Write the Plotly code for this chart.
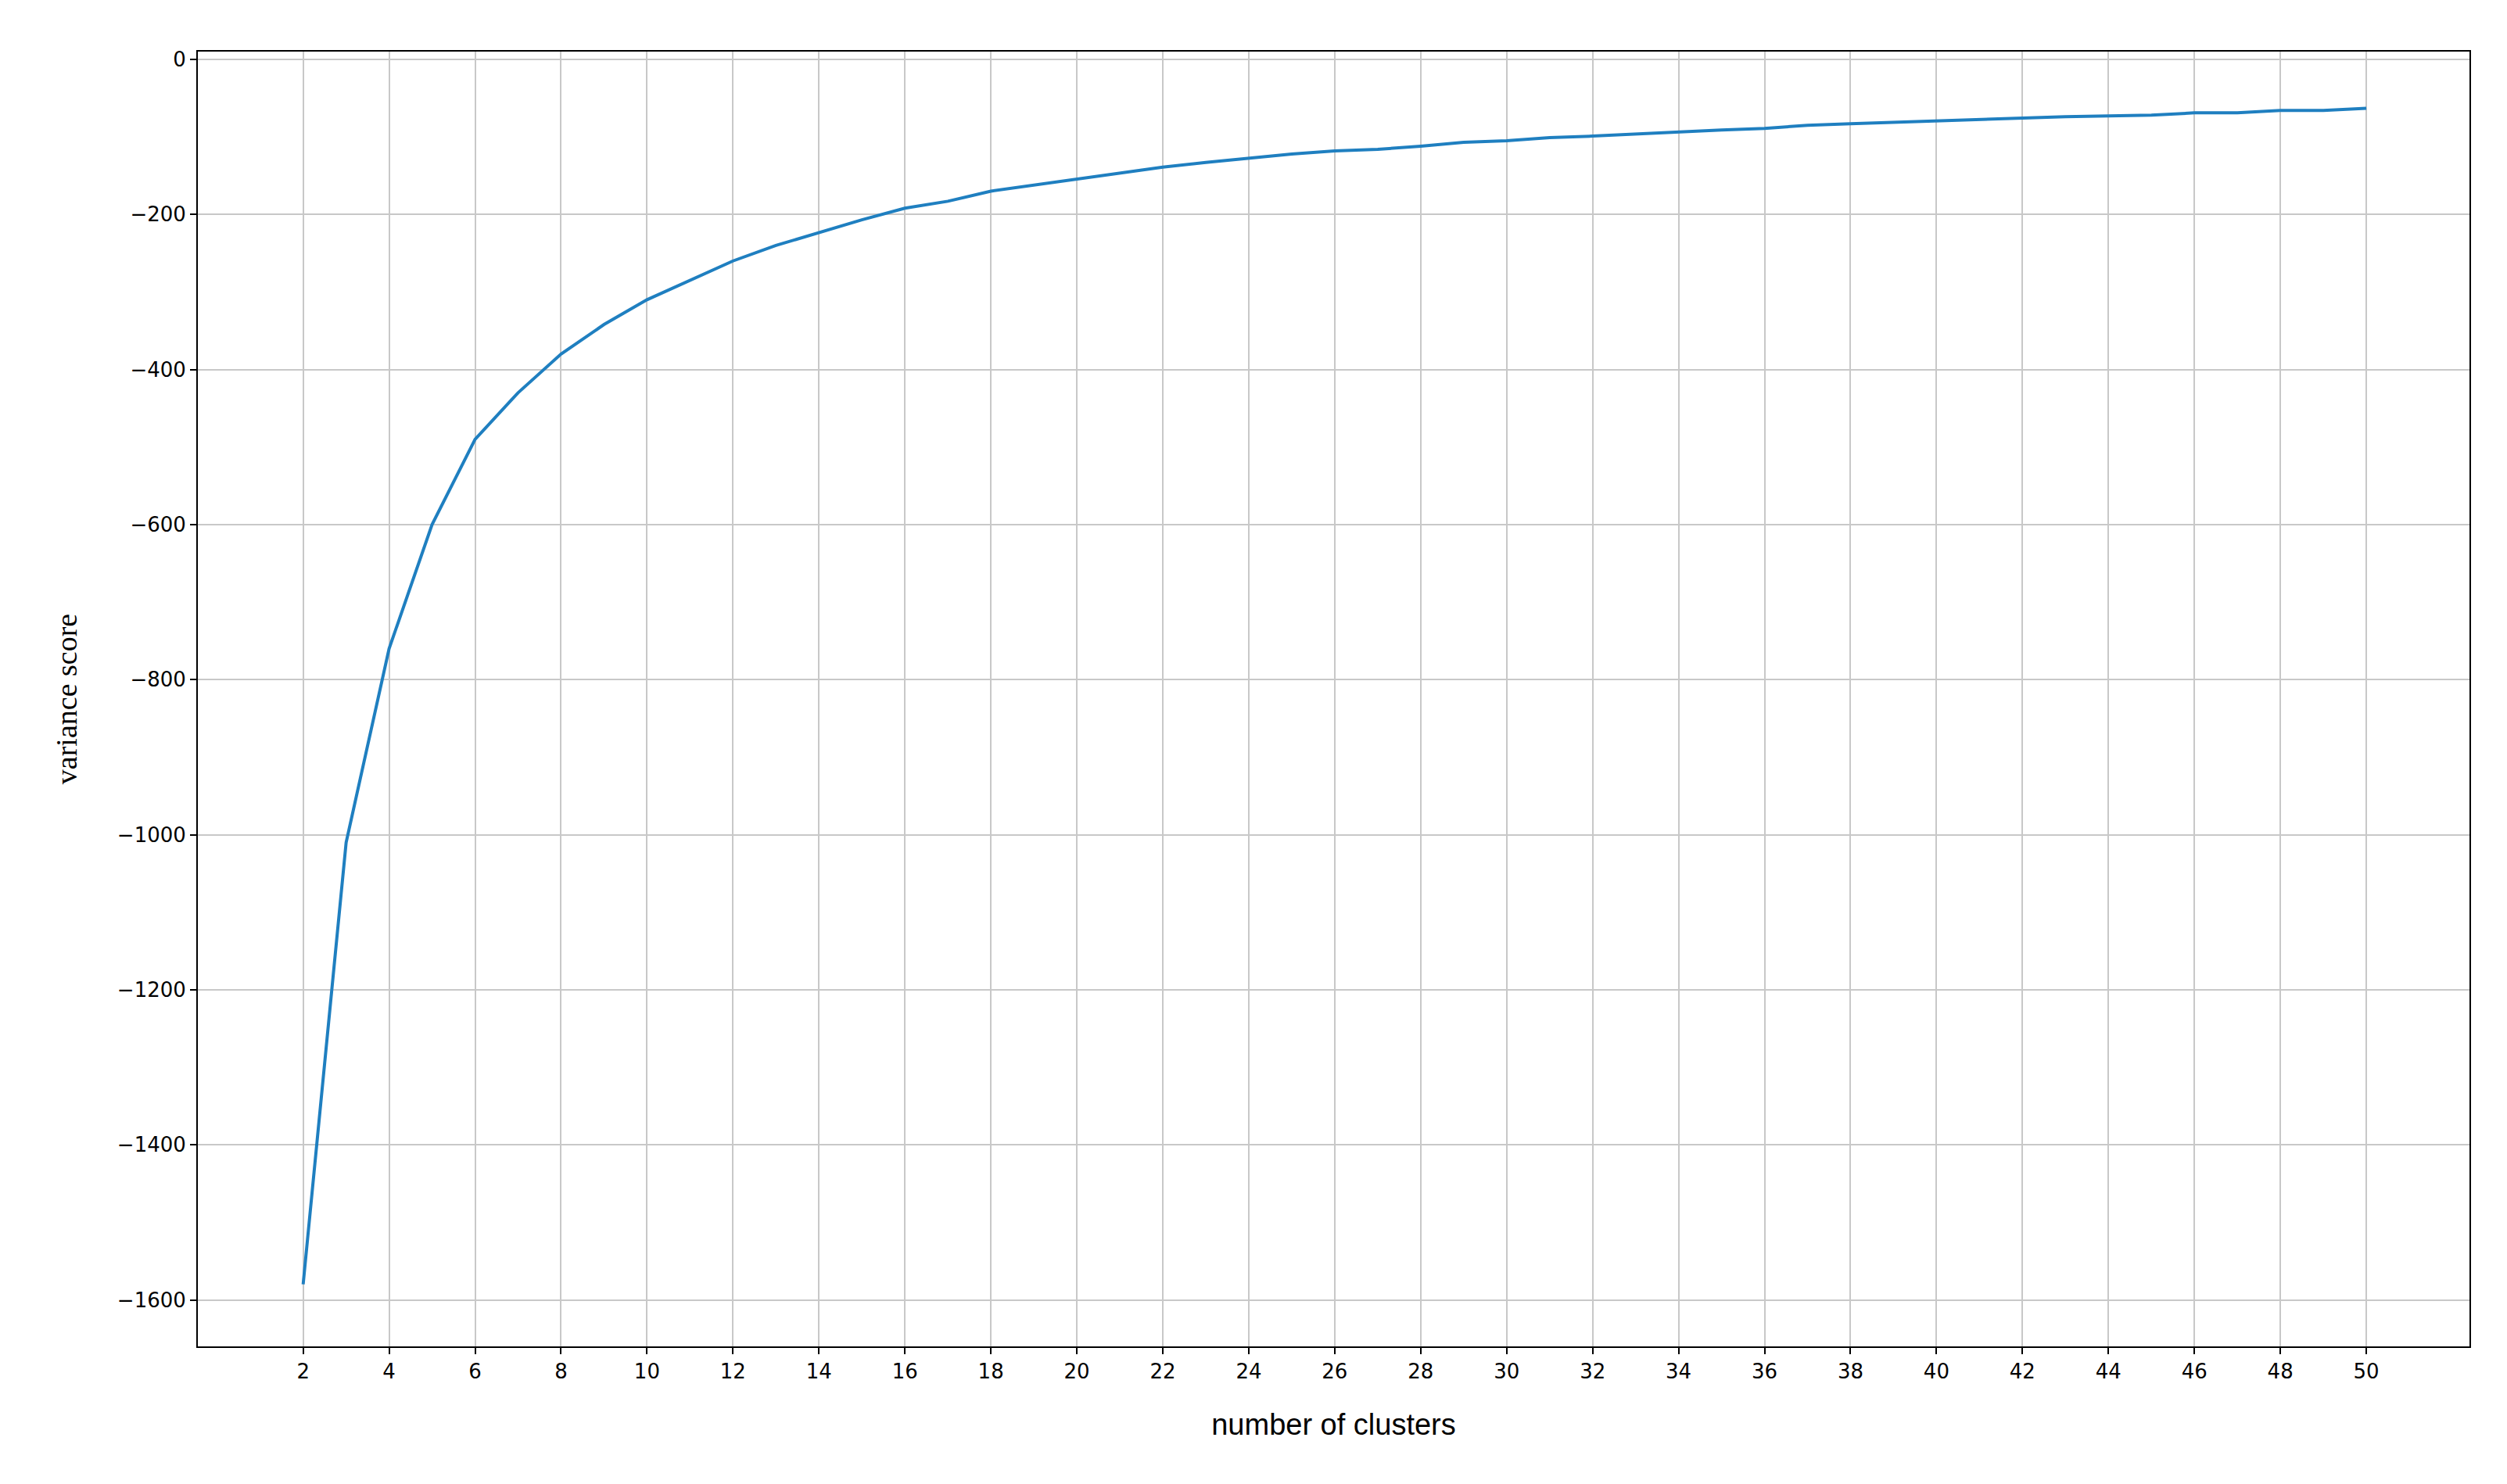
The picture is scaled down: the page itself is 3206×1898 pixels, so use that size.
import plotly.graph_objects as go

clusters = list(range(2, 51))
variance = [-1580, -1010, -760, -600, -490, -430, -380, -342, -310, -285,
            -260, -240, -223, -207, -192, -183, -170, -162, -155, -147,
            -139, -133, -127, -122, -118, -116, -112, -107, -105, -101,
            -99, -96, -94, -91, -89, -85, -83, -81, -79, -77,
            -76, -74, -73, -72, -69, -69, -66, -66, -63]
x_ticks = list(range(2, 51, 2))
y_ticks = list(range(-1600, 1, 200))

fig = go.Figure()
fig.add_trace(go.Scatter(x=clusters, y=variance, mode='lines',
                         line=dict(color='#1f7fc0', width=4)))

axis_common = dict(showgrid=True, gridcolor='#c8c8c8', gridwidth=2,
                   showline=True, linecolor='black', linewidth=2, mirror=True,
                   ticks='outside', ticklen=8, tickwidth=2, tickcolor='black',
                   zeroline=False, tickfont=dict(family='DejaVu Sans', size=26, color='black'))

fig.update_layout(
    width=3206, height=1898,
    paper_bgcolor='white', plot_bgcolor='white',
    showlegend=False,
    margin=dict(l=245, r=56, t=58, b=184),
    xaxis=dict(axis_common, range=[-0.45, 52.4], tickvals=x_ticks,
               title=dict(text='number of clusters', standoff=40,
                          font=dict(family='Liberation Sans', size=38, color='black'))),
    yaxis=dict(axis_common, range=[-1660, 10], tickvals=y_ticks,
               tickformat='d',
               title=dict(text='variance score', standoff=40,
                          font=dict(family='Liberation Serif', size=38, color='black'))),
)
fig.write_html("out.html")
